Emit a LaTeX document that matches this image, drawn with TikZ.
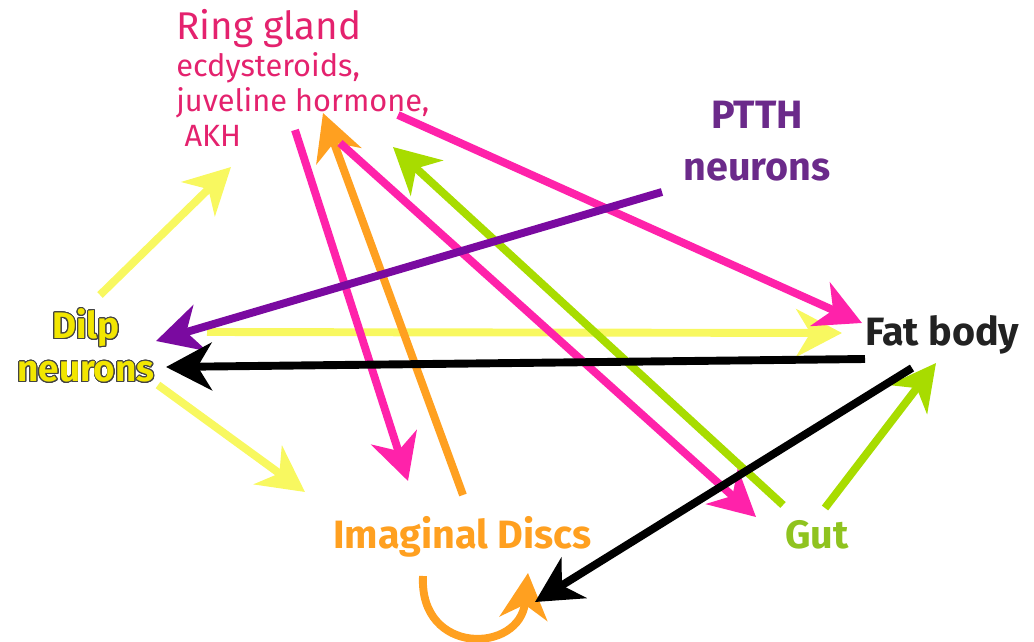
\documentclass[tikz,border=0pt]{standalone}
\usepackage{fontspec}
\setmainfont{Fira Sans}
\usepackage[copies]{contour}
\usetikzlibrary{arrows.meta}
\definecolor{ringpink}{HTML}{E4226E}
\definecolor{arrowpink}{HTML}{FF22AA}
\definecolor{ptthpurple}{HTML}{6B2A8A}
\definecolor{arrowpurple}{HTML}{7A0AA0}
\definecolor{discorange}{HTML}{FFA020}
\definecolor{gutgreen}{HTML}{8FC31F}
\definecolor{arrowgreen}{HTML}{A8DC00}
\definecolor{dilpyellow}{HTML}{F2E600}
\definecolor{arrowyellow}{HTML}{F8F860}
\definecolor{fatblack}{HTML}{222222}
\tikzset{organ/.style={inner sep=0pt, font=\fontsize{22.5}{27}\selectfont\bfseries}}
\tikzset{link/.style={line width=4.5pt, -{Stealth[length=26pt,width=27pt,inset=8pt]}}}
\contourlength{0.5pt}
\contournumber{24}

\begin{document}
\begin{tikzpicture}[x=0.02cm, y=-0.02cm]
\useasboundingbox (0,0) rectangle (1034,642);

% organs
\node (ring) [organ, anchor=north west, align=left, text=ringpink, font=\fontsize{17.5}{20}\selectfont\mdseries] at (176,9)
  {{\fontsize{22}{22}\selectfont Ring gland}\\[1pt]
   ecdysteroids,\\
   juveline hormone,\\
   \ AKH};
\node (ptth) [organ, align=center, text=ptthpurple, font=\fontsize{22.5}{29.5}\selectfont\bfseries] at (757,141) {PTTH\\neurons};
\node (dilp) [organ, align=center, font=\fontsize{21}{24.5}\selectfont\bfseries] at (86,346)
  {\contour{fatblack!85}{\textcolor{dilpyellow}{Dilp}}\\\contour{fatblack!85}{\textcolor{dilpyellow}{neurons}}};
\node (fat) [organ, anchor=base west, text=fatblack] at (865,345) {Fat body};
\node (discs) [organ, anchor=base west, text=discorange] at (333,548) {Imaginal Discs};
\node (gut) [organ, anchor=base west, text=gutgreen] at (785,548) {Gut};

% arrow ends
\coordinate (ring-in1) at (231,167);
\coordinate (ring-in2) at (323,113);
\coordinate (ring-in3) at (393,147);
\coordinate (ring-out1) at (398,115);
\coordinate (ring-out2) at (295,130);
\coordinate (ring-out3) at (340,143);
\coordinate (ptth-out) at (662,192);
\coordinate (dilp-out1) at (100,295);
\coordinate (dilp-out2) at (207,332);
\coordinate (dilp-out3) at (158,385);
\coordinate (dilp-in1) at (156,341);
\coordinate (dilp-in2) at (166,367);
\coordinate (fat-in1) at (842,333);
\coordinate (fat-in2) at (862,323);
\coordinate (fat-in3) at (936,363);
\coordinate (fat-out1) at (865,359);
\coordinate (fat-out2) at (912,368);
\coordinate (discs-in1) at (305,492);
\coordinate (discs-in2) at (408,481);
\coordinate (discs-in3) at (535,602);
\coordinate (discs-out) at (463,495);
\coordinate (loop-a) at (423,576);
\coordinate (loop-b) at (528,573);
\coordinate (gut-in) at (756,517);
\coordinate (gut-out1) at (783,505);
\coordinate (gut-out2) at (825,508);

% connectors
\draw [link, arrowyellow] (dilp-out1) -- (ring-in1);
\draw [link, arrowyellow] (dilp-out2) -- (fat-in1);
\draw [link, arrowyellow] (dilp-out3) -- (discs-in1);
\draw [link, discorange] (discs-out) -- (ring-in2);
\draw [link, discorange] (loop-a) .. controls (419,656) and (520,654) .. (loop-b);
\draw [link, arrowpink] (ring-out1) -- (fat-in2);
\draw [link, arrowpink] (ring-out2) -- (discs-in2);
\draw [link, arrowpink] (ring-out3) -- (gut-in);
\draw [link, arrowgreen] (gut-out1) -- (ring-in3);
\draw [link, arrowgreen] (gut-out2) -- (fat-in3);
\draw [link, arrowpurple] (ptth-out) -- (dilp-in1);
\draw [link, black] (fat-out1) -- (dilp-in2);
\draw [link, black] (fat-out2) -- (discs-in3);

\end{tikzpicture}
\end{document}
